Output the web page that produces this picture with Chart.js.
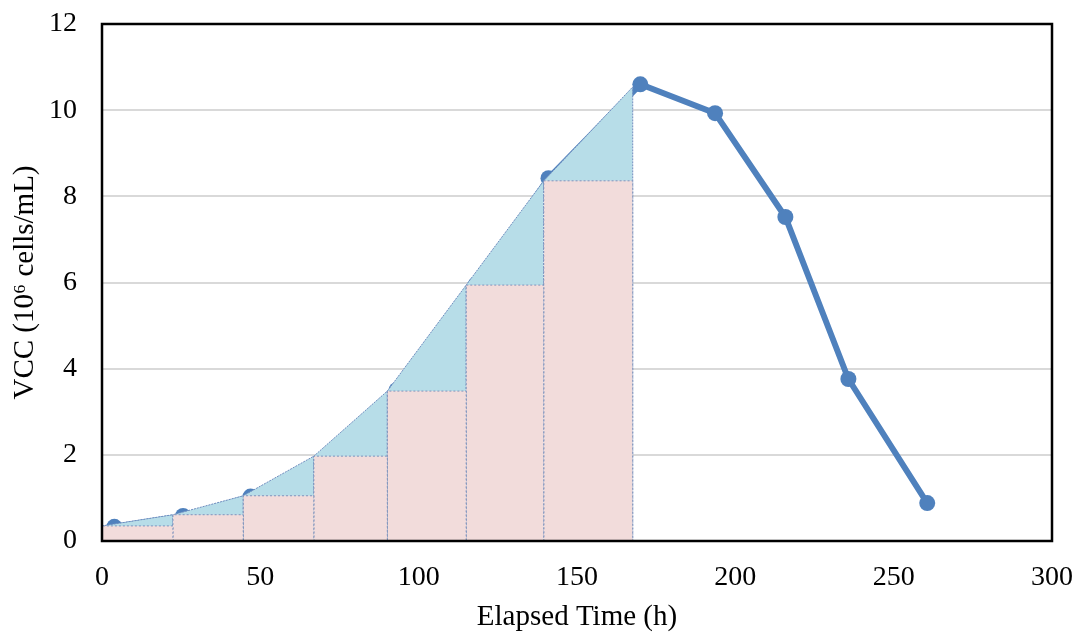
<!DOCTYPE html>
<html>
<head>
<meta charset="utf-8">
<script src="https://cdn.jsdelivr.net/npm/chart.js@4/dist/chart.umd.min.js"></script>
<style>
  html, body { margin: 0; padding: 0; background: #fff; }
  #wrap { width: 1085px; height: 635px; }
</style>
</head>
<body>
<div id="wrap"><canvas id="vcc-chart" width="1085" height="635"></canvas></div>
<script>
"use strict";

// measured culture (line + markers)
var timeH = [3.9, 25.6, 46.9, 70, 93, 118, 141, 170, 193.6, 215.8, 235.7, 260.6];
var vcc = [0.33, 0.58, 1.03, 1.9, 3.5, 5.95, 8.42, 10.6, 9.93, 7.52, 3.76, 0.88];

// integration segments (trapezoids and rectangles)
var areaTime = [0, 22.4, 44.6, 66.9, 90.1, 115.0, 139.5, 167.6];
var areaVcc = [0.35, 0.61, 1.05, 1.97, 3.48, 5.94, 8.36, 10.54];

// axis ticks
var xTicks = [0, 50, 100, 150, 200, 250, 300];
var yTicks = [0, 2, 4, 6, 8, 10, 12];

var serif = "'Liberation Serif', 'Times New Roman', serif";

var datasets = [];

//start segment fills
for (var i = 0; i < areaTime.length - 1; i++) {
    var x0 = areaTime[i], x1 = areaTime[i + 1];
    var y0 = areaVcc[i], y1 = areaVcc[i + 1];

    // rectangle, pink, on top
    datasets.push({
        data: [{x: x0, y: 0}, {x: x0, y: y0}, {x: x1, y: y0}, {x: x1, y: 0}],
        fill: 'origin',
        backgroundColor: '#F2DCDB',
        borderColor: '#7F93BC',
        borderWidth: 1,
        borderDash: [2, 2],
        pointRadius: 0,
        tension: 0,
        order: 1
    });

    // trapezoid, light blue
    datasets.push({
        data: [{x: x0, y: 0}, {x: x0, y: y0}, {x: x1, y: y1}, {x: x1, y: 0}],
        fill: 'origin',
        backgroundColor: '#B7DDE8',
        borderColor: '#6F8CBE',
        borderWidth: 1,
        borderDash: [2, 1],
        pointRadius: 0,
        tension: 0,
        order: 2
    });
}
//end segment fills

//start vcc line (drawn under the fills)
datasets.push({
    data: timeH.map(function(t, k) { return {x: t, y: vcc[k]}; }),
    fill: false,
    borderColor: '#4F81BD',
    backgroundColor: '#4F81BD',
    borderWidth: 6,
    pointRadius: 8,
    pointHoverRadius: 8,
    pointBorderWidth: 0,
    tension: 0,
    order: 3
});
//end vcc line

// black frame round the plot area
var framePlugin = {
    id: 'frame',
    afterDraw: function(chart) {
        var a = chart.chartArea;
        var ctx = chart.ctx;
        ctx.save();
        ctx.strokeStyle = '#000';
        ctx.lineWidth = 2.5;
        ctx.strokeRect(a.left, a.top, a.right - a.left, a.bottom - a.top);
        ctx.restore();
    }
};

new Chart(document.getElementById('vcc-chart'), {
    type: 'line',
    data: { datasets: datasets },
    plugins: [framePlugin],
    options: {
        responsive: false,
        animation: false,
        layout: { padding: { top: 24, right: 33, left: 0, bottom: 0 } },
        plugins: {
            legend: { display: false },
            tooltip: { enabled: false }
        },
        scales: {
            x: {
                type: 'linear',
                min: xTicks[0],
                max: xTicks[xTicks.length - 1],
                afterBuildTicks: function(axis) {
                    axis.ticks = xTicks.map(function(v) { return {value: v}; });
                },
                afterFit: function(axis) {
                    axis.height = 94;
                    axis.paddingLeft = 0;
                    axis.paddingRight = 0;
                },
                grid: { display: false, drawTicks: false },
                border: { display: false },
                ticks: {
                    color: '#000',
                    padding: 20,
                    maxRotation: 0,
                    font: { family: serif, size: 28 }
                },
                title: {
                    display: true,
                    text: 'Elapsed Time (h)',
                    color: '#000',
                    padding: { top: 0, bottom: 0 },
                    font: { family: serif, size: 29 }
                }
            },
            y: {
                min: yTicks[0],
                max: yTicks[yTicks.length - 1],
                afterBuildTicks: function(axis) {
                    axis.ticks = yTicks.map(function(v) { return {value: v}; });
                },
                afterFit: function(axis) {
                    axis.width = 102;
                    axis.paddingTop = 0;
                    axis.paddingBottom = 0;
                },
                grid: { color: '#D9D9D9', lineWidth: 2, drawTicks: false },
                border: { display: false },
                ticks: {
                    color: '#000',
                    padding: 25,
                    font: { family: serif, size: 28 }
                },
                title: {
                    display: true,
                    text: 'VCC (10\u2076 cells/mL)',
                    color: '#000',
                    padding: { top: 8, bottom: 0 },
                    font: { family: serif, size: 29 }
                }
            }
        }
    }
});
</script>
</body>
</html>
